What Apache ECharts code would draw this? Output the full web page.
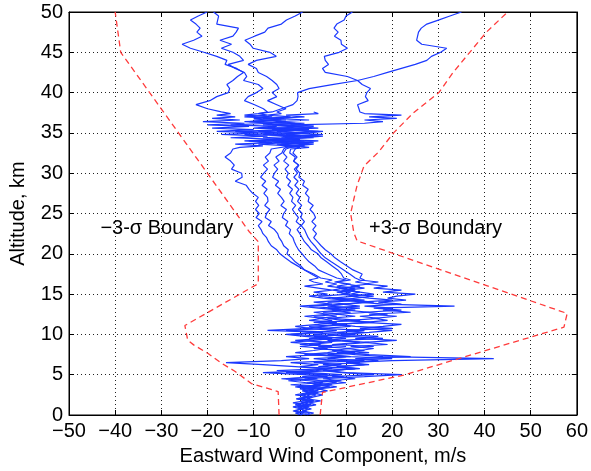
<!DOCTYPE html>
<html>
<head>
<meta charset="utf-8">
<script src="https://cdn.jsdelivr.net/npm/echarts@6/dist/echarts.min.js"></script>
<style>
html,body{margin:0;padding:0;background:#fff;}
#chart{width:591px;height:471px;}
</style>
</head>
<body>
<div id="chart"></div>
<script>
// Altitude sampling levels (km) shared by all profiles
const ALT = [
  0,0.25,0.5,0.75,1,1.25,1.5,1.75,2,2.25,2.5,2.75,3,
  3.25,3.5,3.75,4,4.25,4.5,4.75,5,5.25,5.5,5.75,6,
  6.25,6.5,6.75,7,7.25,7.5,7.75,8,
  8.25,8.5,8.75,9,9.25,9.5,9.75,10,10.25,10.5,10.75,11,11.25,11.5,11.75,12,
  12.25,12.5,12.75,13,13.25,13.5,13.75,14,14.25,14.5,14.75,15,
  15.25,15.5,15.75,16,16.25,16.5,16.75,17,
  17.5,18,18.5,19,19.5,20,20.5,21,21.5,22,22.5,23,23.5,24,24.5,25,25.5,26,26.5,27,27.5,28,28.5,29,29.5,30,30.5,31,31.5,32,32.5,33,
  33.2,33.4,33.6,33.8,34,34.2,34.4,34.6,34.8,35,35.2,35.4,35.6,35.8,36,36.2,36.4,36.6,36.8,37,37.2,37.4,37.6,
  38,38.5,39,39.5,40,40.5,41,41.5,42,42.5,43,43.5,44,44.5,45,45.5,46,46.5,47,47.5,48,48.5,49,49.5,50
];

// Eastward wind (m/s) of each sounding at the levels above
const PROFILE_1 = [
  0.5,-0.8,1.2,0.2,-1.5,1.0,0.3,2.1,-0.5,1.5,0.8,2.5,1.0,
  3.0,-0.5,4.2,1.5,-2.5,3.8,0.5,6.0,-3.0,2.2,5.5,-1.0,
  -8,-16,-4,2,-3,4,-1,3,
  6,0,4.5,-2,3,7,1,-3,5,-7,2,-1,4,8,2,5,
  1,6,3,9,4,0,7,3,10,5,2,6,
  3,7,4,1,5,3,2,4,
  2.5,1.0,-0.5,-2.0,-3.2,-4.3,-5.0,-6.2,-6.8,-7.2,-8.0,-8.4,-9.0,-8.2,-9.5,-8.8,-9.6,-8.9,-9.6,-9.0,-10.2,-11.0,-11.6,-14.0,-12.5,-12.6,-14.8,-14.2,-15.0,-16.2,-15.0,-14.5,
  -13,-8,-14,-6,-12,-4,-15,-7,-17,-9,-18,-10,-19,-11,-20,-12,-21,-13,-19,-14,-18,-15,-17,
  -20,-22.5,-19.5,-18,-15.5,-15.2,-15.8,-14.5,-13.5,-12.2,-13.7,-16.2,-15.8,-18,-20.8,-23.7,-25.5,-23,-21.2,-22.3,-21.6,-22.5,-23.7,-22,-20.1
];
const PROFILE_2 = [
  1.0,2.2,0.5,1.8,-0.5,2.5,1.0,3.0,0.2,2.0,3.5,1.2,4.0,
  2.0,6.5,3.0,8.0,4.5,1.0,9.5,5.0,-2.0,7.0,12.0,4.0,
  9.0,3.0,14.0,6.0,10.0,2.0,12.0,7.0,
  11.0,4.0,9.0,15.0,6.0,10.0,3.0,12.0,8.0,14.0,5.0,11.0,7.0,16.0,9.0,6.0,
  12.0,8.0,15.0,10.0,6.0,13.0,9.0,16.0,11.0,7.0,12.0,9.0,
  11.0,7.0,9.5,6.0,8.0,5.5,7.0,4.5,
  3.0,1.0,0.2,-1.0,-1.8,-2.8,-2.5,-3.5,-3.9,-4.5,-4.8,-5.5,-6.8,-6.2,-7.5,-7.2,-6.5,-7.6,-6.9,-7.0,-7.8,-7.1,-8.2,-7.4,-8.5,-7.8,-7.0,-7.9,-6.8,-7.5,-6.5,-6.2,
  -6,-2,-9,-3,-11,-1,-8,0,-12,-4,-14,-2,-10,-5,-15,-6,-12,-3,-10,-6,-12,-9,-7,
  -7.9,-9.8,-12.0,-11.2,-9.4,-8.0,-9.0,-12.2,-11.5,-12.0,-14.0,-15.5,-12.2,-13.0,-14.5,-17.0,-14.8,-17.3,-14.5,-13.8,-13.3,-18.0,-17.8,-17.6,-18.7
];
const PROFILE_3 = [
  0.5,-1.0,1.5,0.0,2.0,-0.5,1.0,3.0,0.0,2.5,1.5,4.0,2.0,
  5.0,1.0,7.0,3.0,9.0,5.0,14.0,22.0,10.0,6.0,12.0,8.0,
  15.0,10.0,20.0,42.0,18.0,12.0,8.0,14.0,
  10.0,16.0,7.0,13.0,9.0,18.0,11.0,6.0,14.0,10.0,20.0,12.0,8.0,15.0,11.0,17.0,
  13.0,19.0,14.0,22.0,16.0,33.5,18.0,13.0,20.0,15.0,11.0,16.0,
  13.0,9.0,12.0,8.0,11.0,7.5,10.0,8.0,
  6.0,4.0,3.2,2.0,1.2,0.5,-0.3,-0.8,-1.2,-1.5,-2.3,-2.0,-3.1,-2.6,-3.8,-3.5,-2.9,-4.1,-3.4,-4.0,-4.8,-4.2,-5.3,-4.6,-5.9,-5.5,-4.8,-5.6,-4.5,-5.2,-3.9,-3.5,
  -3,1,-5,2,-7,0,-4,3,-8,1,-5,2,-9,-1,-6,1,-11,-4,-8,-2,-7,-4,-5,
  -3.0,-5.0,-7.0,-5.0,-6.0,-4.5,-5.0,-6.0,-7.2,-9.0,-9.4,-11.2,-9.4,-5.1,-6.5,-10.1,-10.8,-11.9,-9.8,-7.6,-6.9,-4.0,-2.9,-1.0,0.6
];
const PROFILE_4 = [
  0.0,1.5,-1.2,0.8,-0.5,2.0,-1.5,1.0,0.0,2.5,-1.0,1.5,3.0,
  0.0,4.5,-2.0,5.0,2.0,-4.0,6.0,1.0,-8.0,3.5,7.0,0.0,
  4.0,-2.0,8.0,3.0,11.0,1.0,6.0,9.0,
  4.0,10.0,2.0,7.0,-1.0,5.0,12.0,3.0,8.0,-3.0,6.0,2.0,9.0,4.0,13.0,7.0,
  3.0,9.0,5.0,12.0,7.0,2.0,10.0,6.0,14.0,8.0,4.0,11.0,
  8.0,12.0,9.0,13.0,10.0,8.0,11.0,9.5,
  9.0,8.2,7.0,5.8,4.6,3.9,2.5,1.8,1.0,0.5,0.0,-0.6,0.2,-0.8,-0.3,-1.0,-1.6,-0.9,-1.8,-1.5,-2.2,-1.6,-2.6,-2.0,-2.9,-2.5,-3.2,-2.4,-3.5,-2.8,-3.6,-3.0,
  -2,1,-4,3,-6,0,-3,4,-7,2,-9,0,-5,3,-8,-1,-4,2,-6,1,-3,4,3,
  null,null,null,null,null,null,null,null,null,null,null,null,null,null,null,null,null,null,null,null,null,null,null,null,null
];
const PROFILE_5 = [
  1.5,3.0,0.5,2.5,1.0,3.5,2.0,4.5,1.5,3.0,5.0,2.5,6.0,
  4.0,8.0,5.0,10.0,6.5,12.0,7.0,16.0,9.0,5.0,13.0,8.0,
  14.0,10.0,17.0,12.0,24.0,15.0,9.0,13.0,
  16.0,11.0,19.0,14.0,21.0,12.0,17.0,9.0,15.0,20.0,13.0,18.0,22.0,14.0,19.0,16.0,
  21.0,15.0,24.0,18.0,20.0,14.0,22.0,17.0,23.0,19.0,21.0,25.0,
  18.0,22.0,16.0,19.0,14.0,17.0,13.0,12.0,
  10.8,9.5,8.2,6.8,5.5,4.6,3.9,3.2,2.4,1.8,1.4,1.0,0.3,1.0,0.2,0.5,-0.3,0.4,-0.5,0.0,-0.8,-0.2,-1.1,-0.4,-1.3,-0.5,-1.2,-0.3,-1.4,-0.6,-1.5,-1.0,
  0,-3,2,-4,1,-6,3,-3,5,-2,4,-5,2,-1,-2,14,18,14,21,15,22,14,13,
  12.8,12.5,14.8,14.2,14.5,15.3,13.5,12.5,10.3,5.5,4.9,6.2,5.5,5.3,8.5,10.3,9.0,8.9,7.5,8.3,7.4,8.0,9.6,10.0,11.4
];
const PROFILE_6 = [
  -0.5,0.8,-1.5,0.3,1.2,-1.0,0.5,2.0,-0.8,1.5,0.0,2.8,0.5,
  3.0,-1.0,5.0,1.5,7.0,-3.0,4.0,9.0,2.0,-5.0,6.0,10.0,
  5.0,13.0,8.0,20.0,11.0,6.0,15.0,9.0,
  3.0,7.0,0.0,5.0,9.0,2.0,6.0,-2.0,4.0,8.0,1.0,5.0,10.0,3.0,7.0,4.0,
  8.0,5.0,11.0,7.0,13.0,6.0,10.0,14.0,9.0,12.0,16.0,11.0,
  13.0,10.0,14.0,11.0,15.0,12.0,14.0,13.0,
  13.5,11.5,10.2,8.8,7.6,6.7,5.5,4.6,3.8,3.0,3.6,2.8,3.5,2.6,3.4,3.0,2.2,2.9,1.8,2.0,1.2,1.8,0.6,1.0,-0.2,0.0,-0.8,-0.2,-1.3,-1.0,-2.2,-2.0,
  2,-1,3,-2,4,-4,1,5,-3,2,5,-6,4,-2,3,-8,-3,-10,-5,-12,-7,-9,-6,
  -4.0,-1.5,-0.6,-0.4,-0.5,2.0,7.0,12.5,16.0,19.0,22.0,25.0,27.5,28.5,30.5,31.8,26.4,25.3,25.5,25.7,26.3,27.5,30.0,32.5,35.0
];

// 3-sigma boundaries: [wind m/s, altitude km]
const LOWER_BOUND = [
  [-4.5,0],[-4.7,2.9],[-10.5,3.9],[-14.0,5.4],[-16.9,6.4],[-19.8,7.6],[-23.0,8.7],[-24.3,9.3],[-24.9,11.1],
  [-9.0,16.3],[-9.0,21.5],[-10.9,22.7],[-38.8,45],[-40,50]
];
const UPPER_BOUND = [
  [4.4,0],[4.9,2.8],[22.5,4.95],[57.2,10.9],[57.9,12.6],[12.4,21.6],[11.7,22.6],[11.0,25],[11.7,26.8],
  [12.4,28.5],[13.9,30.9],[17.0,32.6],[20.3,35],[24.6,37.5],[30.1,40],[33.2,42.5],[36.8,45],[40.4,47.5],[45.0,50]
];

const X_TICKS = {min:-50, max:60, step:10};
const Y_TICKS = {min:0, max:50, step:5};
const LABELS = [
  {text:'\u22123-\u03c3 Boundary', at:[-28.8, 23.2]},
  {text:'+3-\u03c3 Boundary', at:[29.4, 23.2]}
];
const X_TITLE = 'Eastward Wind Component, m/s';
const Y_TITLE = 'Altitude, km';

const FONT = "'Liberation Sans', Arial, Helvetica, sans-serif";
const minus = v => String(v).replace('-', '\u2212');

const profiles = [PROFILE_1, PROFILE_2, PROFILE_3, PROFILE_4, PROFILE_5, PROFILE_6];
const blueSeries = profiles.map((p, k) => ({
  type:'line', name:'p'+k, symbol:'none', silent:true,
  data: ALT.map((a, i) => p[i] == null ? null : [p[i], a]).filter(d => d),
  lineStyle:{color:'#1a38ff', width:1.2},
  z:2
}));
const redSeries = [LOWER_BOUND, UPPER_BOUND].map(b => ({
  type:'line', symbol:'none', silent:true, data:b,
  lineStyle:{color:'#ff3b3b', width:1.3, type:[6,4]},
  z:3
}));

const chart = echarts.init(document.getElementById('chart'), null, {renderer:'canvas'});
const axisBase = {
  type:'value',
  axisLine:{show:true, onZero:false, lineStyle:{color:'#000', width:1}},
  axisTick:{show:true, inside:true, length:5, lineStyle:{color:'#000'}}
};
chart.setOption({
  animation:false,
  backgroundColor:'#fff',
  grid:{left:66, right:13, top:12, bottom:54, show:true, borderColor:'#000', borderWidth:1, backgroundColor:'transparent'},
  xAxis:[
    Object.assign({}, axisBase, {
      min:X_TICKS.min, max:X_TICKS.max, interval:X_TICKS.step, position:'bottom',
      axisLabel:{color:'#000', fontSize:20, fontFamily:FONT, margin:6, formatter:minus},
      splitLine:{show:true, lineStyle:{color:'#222', type:[1,3], width:1}},
      name:X_TITLE, nameLocation:'middle', nameGap:31,
      nameTextStyle:{color:'#000', fontSize:20, fontFamily:FONT}
    }),
    Object.assign({}, axisBase, {
      min:X_TICKS.min, max:X_TICKS.max, interval:X_TICKS.step, position:'top',
      axisLabel:{show:false}, splitLine:{show:false}
    })
  ],
  yAxis:[
    Object.assign({}, axisBase, {
      min:Y_TICKS.min, max:Y_TICKS.max, interval:Y_TICKS.step, position:'left',
      axisLabel:{color:'#000', fontSize:20, fontFamily:FONT, margin:6, formatter:minus},
      splitLine:{show:true, lineStyle:{color:'#222', type:[1,3], width:1}},
      name:Y_TITLE, nameLocation:'middle', nameGap:41, nameRotate:90,
      nameTextStyle:{color:'#000', fontSize:20, fontFamily:FONT}
    }),
    Object.assign({}, axisBase, {
      min:Y_TICKS.min, max:Y_TICKS.max, interval:Y_TICKS.step, position:'right',
      axisLabel:{show:false}, splitLine:{show:false}
    })
  ],
  series: blueSeries.concat(redSeries)
});

const graphics = LABELS.map(l => {
  const p = chart.convertToPixel({xAxisIndex:0, yAxisIndex:0}, l.at);
  return {
    type:'text', x:p[0], y:p[1], z:10,
    style:{text:l.text, fill:'#000', font:'20px ' + FONT, align:'center', verticalAlign:'middle'}
  };
});
chart.setOption({graphic:graphics});
</script>
</body>
</html>
